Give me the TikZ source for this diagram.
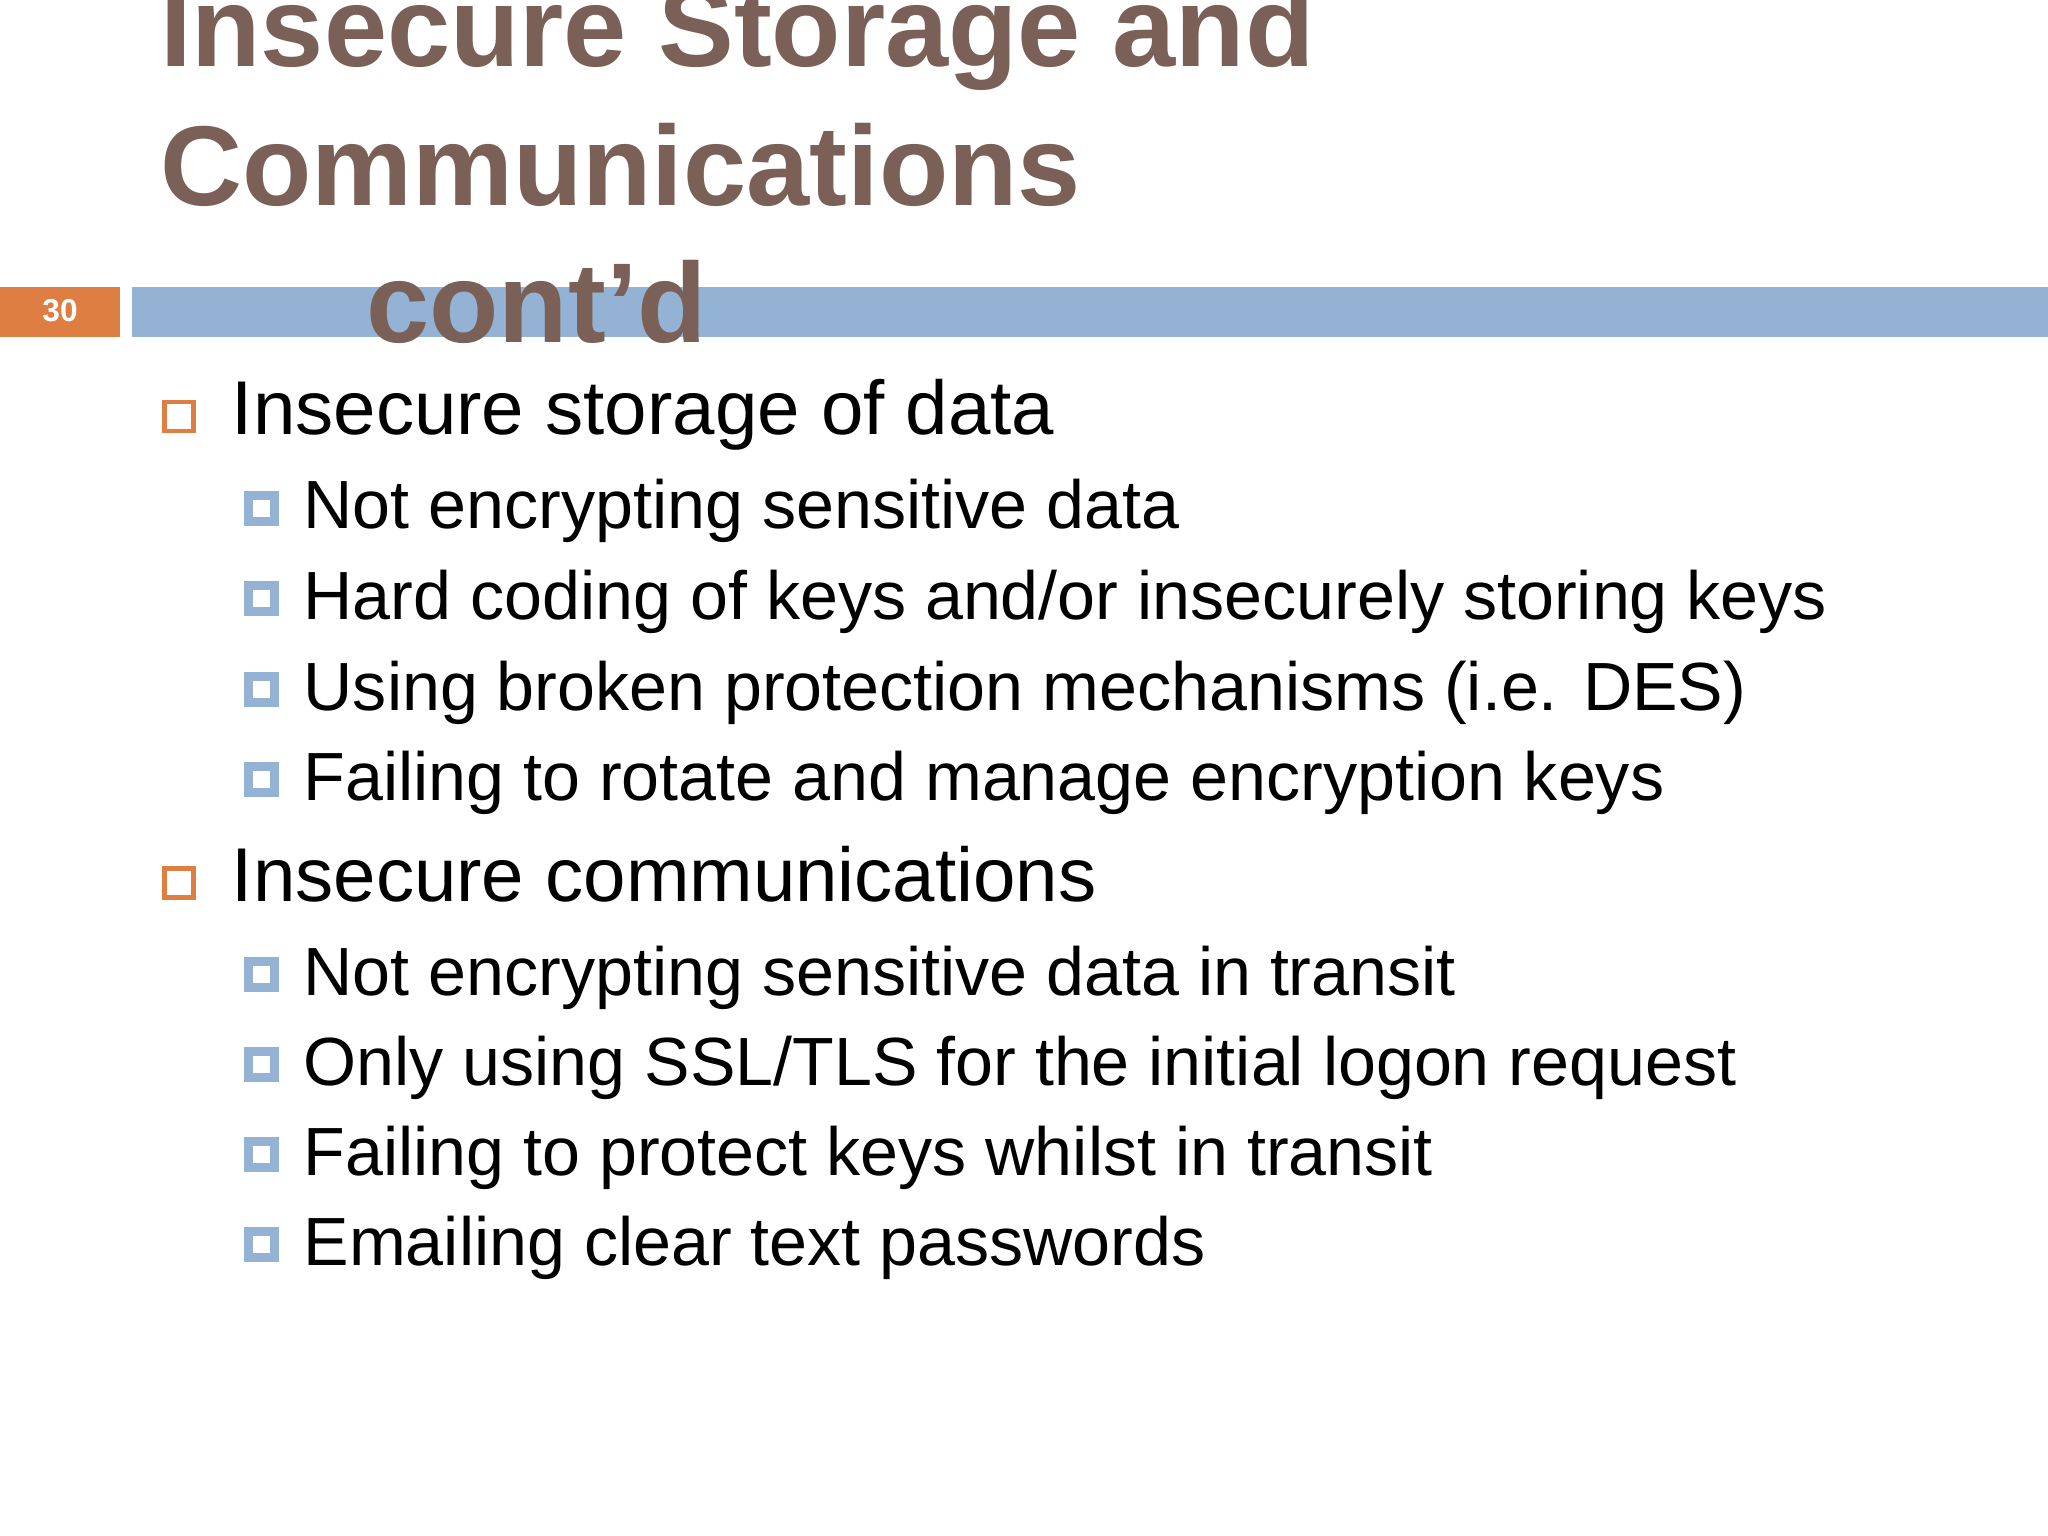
\documentclass[tikz,border=0pt]{standalone}
\usepackage{fontspec}
\setmainfont{Liberation Sans}
\definecolor{titlec}{RGB}{122,96,86}
\definecolor{barblue}{RGB}{148,179,212}
\definecolor{barorange}{RGB}{222,126,66}
\begin{document}
\begin{tikzpicture}[x=0.013061cm,y=-0.013061cm,
  ttl/.style={anchor=base west,inner sep=0,text=titlec,font=\fontsize{32.3}{36}\selectfont\bfseries},
  lone/.style={anchor=base west,inner sep=0,font=\fontsize{21.7}{24}\selectfont},
  ltwo/.style={anchor=base west,inner sep=0,font=\fontsize{19.4}{22}\selectfont},
  bone/.style={draw=barorange,line width=1.2pt,minimum size=0.29cm,inner sep=0},
  btwo/.style={draw=barblue,fill=white,line width=2.6pt,minimum size=0.26cm,inner sep=0}]
\useasboundingbox (0,0) rectangle (1568,1176);
\fill[white] (0,0) rectangle (1568,1176);
\fill[barorange] (0,220) rectangle (92,258);
\fill[barblue] (101,220) rectangle (1568,258);
\node[text=white,font=\fontsize{9}{10}\selectfont\bfseries] (num) at (46,238) {30};
\node[ttl] (t1) at (122,51) {Insecure Storage and};
\node[ttl] (t2) at (122,157) {Communications};
\node[ttl] (t3) at (280,262) {cont’d};
\node[bone] (b1) at (137,319) {};
\node[lone] (l1) at (177,333) {Insecure storage of data};
\foreach \y/\t/\n in {405/{Not encrypting sensitive data}/a,474/{Hard coding of keys and/or insecurely storing keys}/b,544/{Using broken protection mechanisms (i.e. DES)}/c,613/{Failing to rotate and manage encryption keys}/d,762/{Not encrypting sensitive data in transit}/e,831/{Only using SSL/TLS for the initial logon request}/f,900/{Failing to protect keys whilst in transit}/g,969/{Emailing clear text passwords}/h}{
  \node[btwo] (bb\n) at (200,\y-16) {};
  \node[ltwo] (lt\n) at (232,\y) {\t};
}
\node[bone] (b2) at (137,676) {};
\node[lone] (l2) at (177,690) {Insecure communications};
\end{tikzpicture}
\end{document}
